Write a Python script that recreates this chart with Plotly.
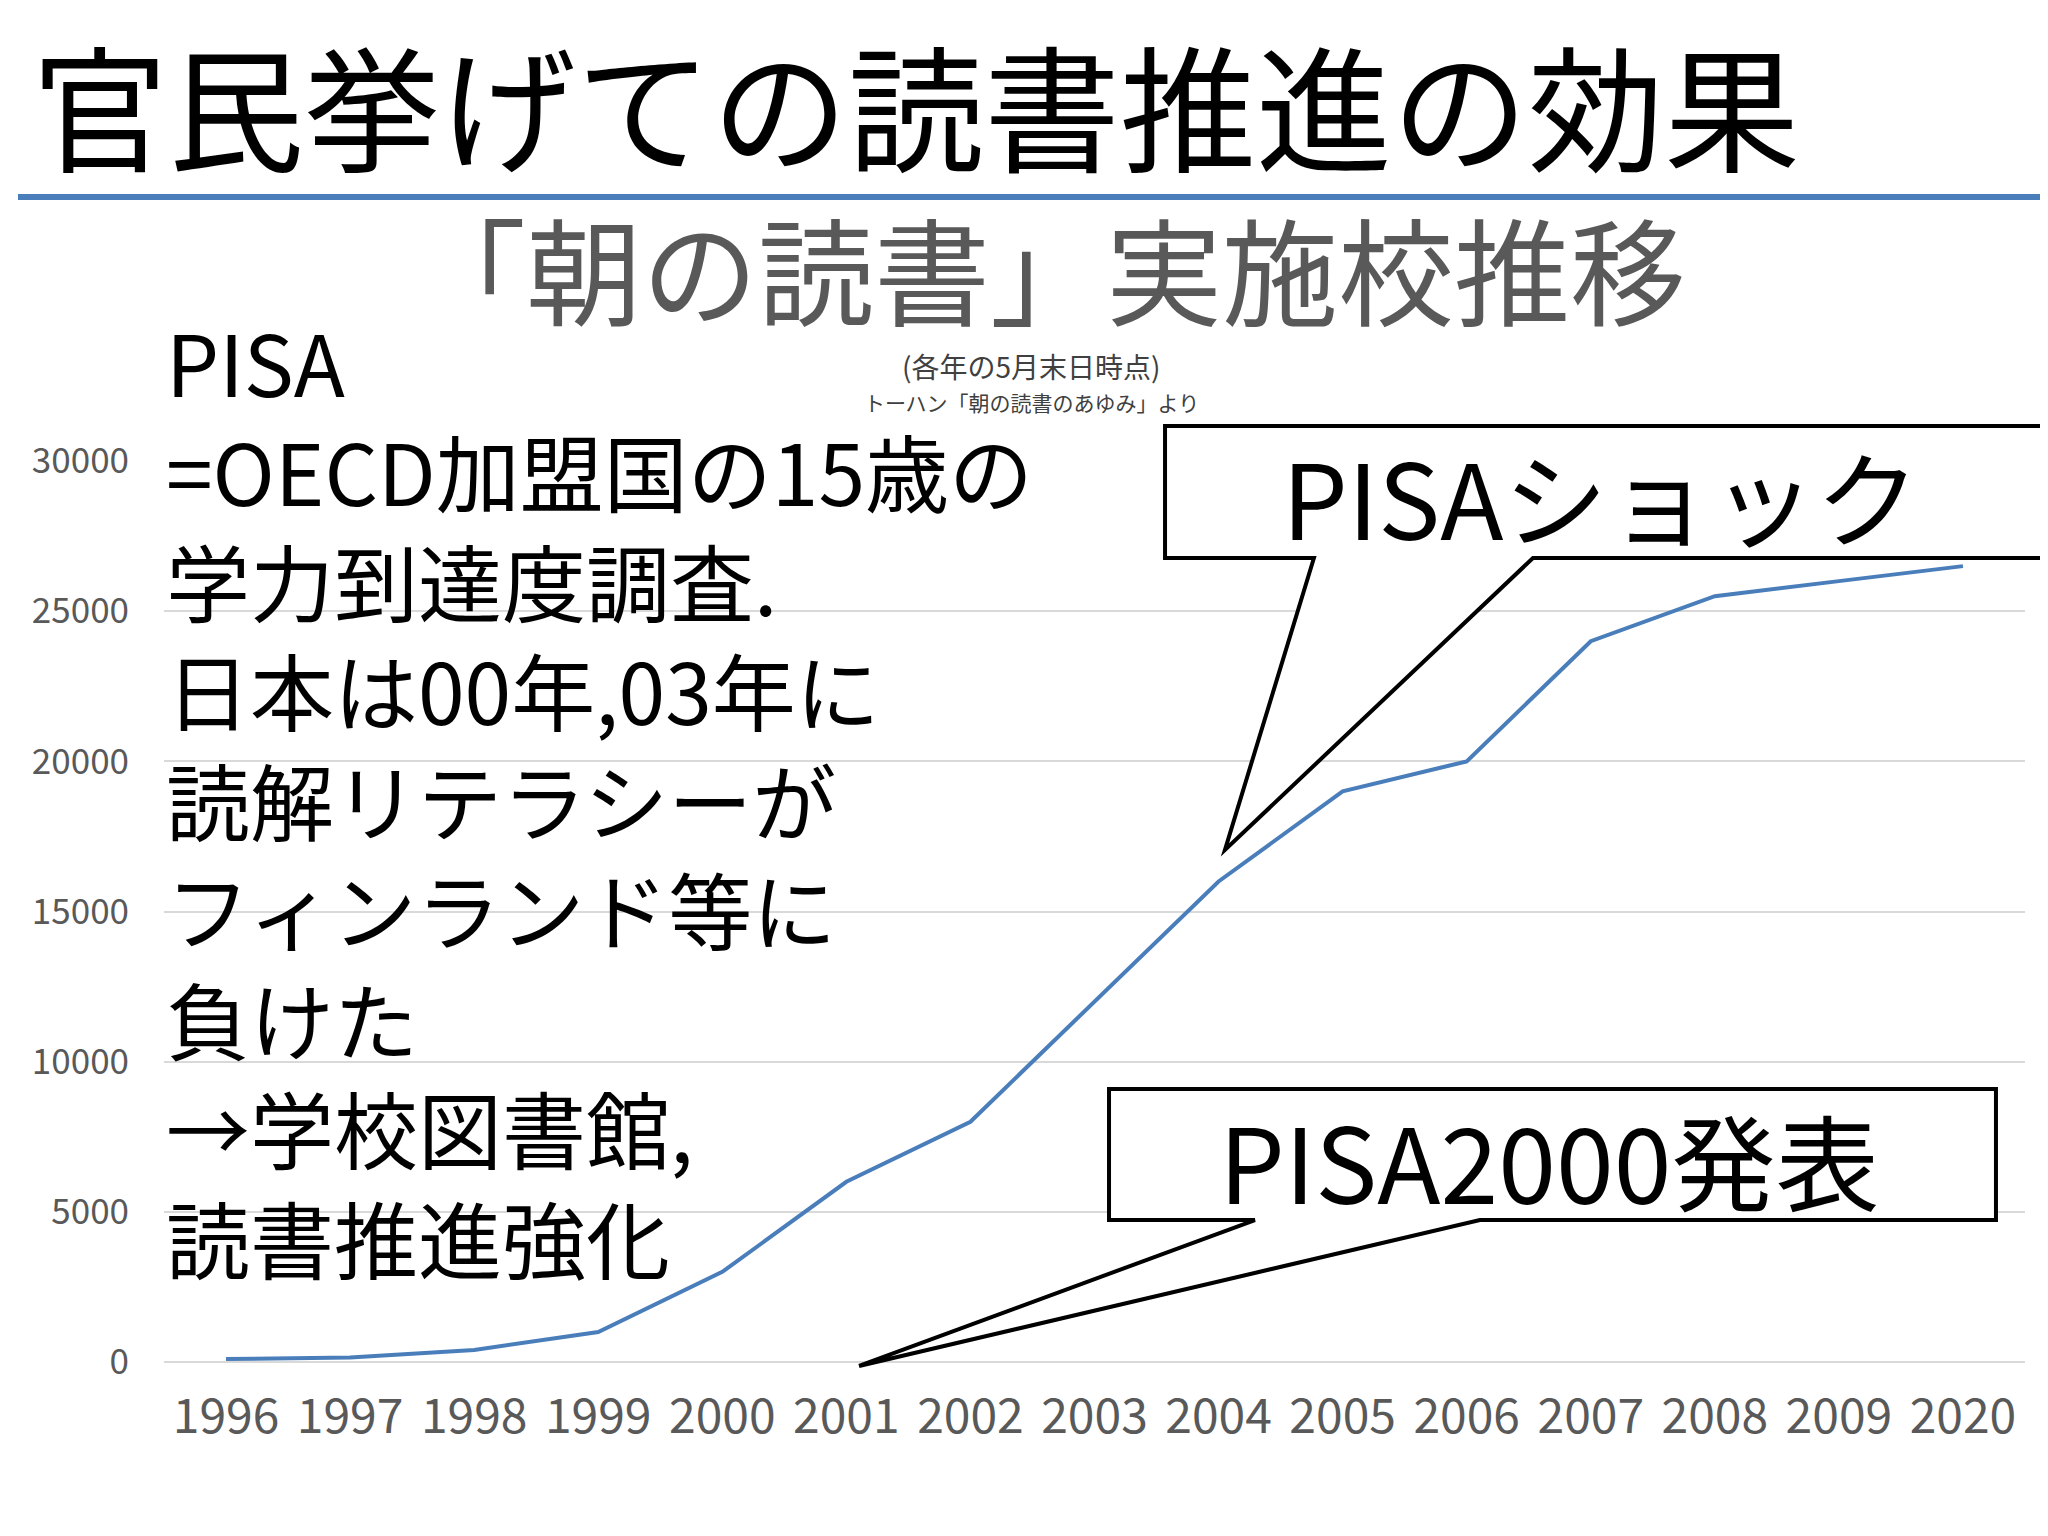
import plotly.graph_objects as go

# data
years = ["1996", "1997", "1998", "1999", "2000", "2001", "2002", "2003",
         "2004", "2005", "2006", "2007", "2008", "2009", "2020"]
schools = [100, 150, 400, 1000, 3000, 6000, 8000, 12000,
           16000, 19000, 20000, 24000, 25500, 26000, 26500]
y_ticks = [0, 5000, 10000, 15000, 20000, 25000, 30000]

left_lines = ["PISA", "=OECD加盟国の15歳の", "学力到達度調査.", "日本は00年,03年に",
              "読解リテラシーが", "フィンランド等に", "負けた", "→学校図書館,", "読書推進強化"]

W, H = 2048, 1536
L, R, T, B = 156, 2017, 453, 1354
FONT = "Noto Sans CJK JP"


def px(x):
    return (x - L) / (R - L)


def py(y):
    return (B - y) / (B - T)


def callout(x0, y0, x1, y1, a, b, tip):
    pts = [(x0, y0), (x1, y0), (x1, y1), (b, y1), tip, (a, y1), (x0, y1)]
    return "M " + " L ".join(f"{px(x):.4f},{py(y):.4f}" for x, y in pts) + " Z"


fig = go.Figure()
fig.add_trace(go.Scatter(x=years, y=schools, mode="lines",
                         line=dict(color="#4a7ebb", width=4), showlegend=False))

fig.update_layout(
    width=W, height=H, plot_bgcolor="white", paper_bgcolor="white",
    margin=dict(l=L, r=W - R, t=T, b=H - B),
    font=dict(family=FONT),
    xaxis=dict(type="category", range=[-0.5, 14.5], showgrid=False, ticks="",
               tickfont=dict(size=48, color="#595959"), showline=False, ticklabelstandoff=22),
    yaxis=dict(range=[0, 30000], tickvals=y_ticks, tickformat="d", showgrid=True, gridcolor="#d9d9d9",
               gridwidth=2, zeroline=True, zerolinecolor="#d9d9d9", zerolinewidth=2,
               tickfont=dict(size=35, color="#595959"), ticks="", ticklabelstandoff=34),
)

shapes = [
    dict(type="line", xref="paper", yref="paper", x0=px(10), x1=px(2048), y0=py(189), y1=py(189),
         line=dict(color="#4a7ebb", width=6)),
    dict(type="path", xref="paper", yref="paper",
         path=callout(1157, 418, 2044, 550, 1306, 1525, (1217, 842)),
         fillcolor="white", line=dict(color="black", width=4), layer="above"),
    dict(type="path", xref="paper", yref="paper",
         path=callout(1101, 1081, 1988, 1212, 1247, 1472, (851, 1358)),
         fillcolor="white", line=dict(color="black", width=4), layer="above"),
]
fig.update_layout(shapes=shapes)

anns = [
    dict(text="官民挙げての読書推進の効果", x=px(22), y=py(94), xanchor="left", yanchor="middle",
         font=dict(size=136, color="black")),
    dict(text="「朝の読書」実施校推移", x=px(1040), y=py(258), xanchor="center", yanchor="middle",
         font=dict(size=116, color="#595959")),
    dict(text="(各年の5月末日時点)", x=px(1023), y=py(358), xanchor="center", yanchor="middle",
         font=dict(size=28, color="#404040")),
    dict(text="トーハン「朝の読書のあゆみ」より", x=px(1023), y=py(394), xanchor="center", yanchor="middle",
         font=dict(size=21, color="#404040")),
    dict(text="PISAショック", x=px(1593), y=py(486), xanchor="center", yanchor="middle",
         font=dict(size=104, color="black")),
    dict(text="PISA2000発表", x=px(1541), y=py(1150), xanchor="center", yanchor="middle",
         font=dict(size=104, color="black")),
]
for i, line in enumerate(left_lines):
    anns.append(dict(text=line, x=px(156), y=py(352 + i * 109.5), xanchor="left", yanchor="middle",
                     font=dict(size=84, color="black")))
for a in anns:
    a.update(xref="paper", yref="paper", showarrow=False)
fig.update_layout(annotations=anns)

fig.write_html("out.html")
